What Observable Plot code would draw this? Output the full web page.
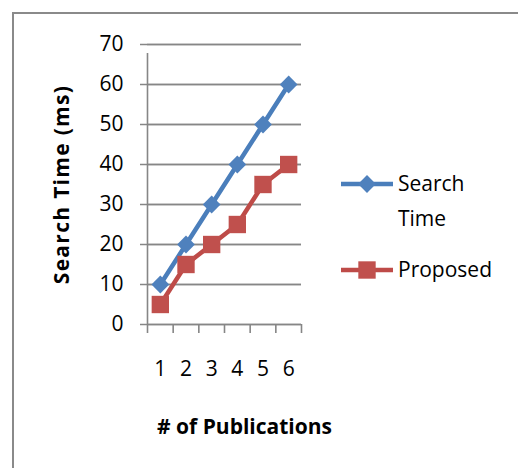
<!DOCTYPE html>
<html>
<head>
<meta charset="utf-8">
<script src="https://cdn.jsdelivr.net/npm/d3@7"></script>
<script src="https://cdn.jsdelivr.net/npm/@observablehq/plot@0.6"></script>
<style>
  html, body { margin: 0; padding: 0; background: #fff; }
  body { width: 518px; height: 468px; position: relative; overflow: hidden; font-family: "Open Sans", sans-serif; }
  #frame { position: absolute; left: 12px; top: 12px; width: 600px; height: 600px;
           border-left: 2px solid #8a8a8a; border-top: 2px solid #8a8a8a; pointer-events: none; }
  #chart { position: absolute; left: 0; top: 0; }
  #legend { position: absolute; left: 341px; top: 160px; font-size: 21px; color: #000; }
  .item { display: flex; align-items: flex-start; }
  .item svg { flex: none; margin-top: 12px; }
  .item span { margin-left: 5px; margin-top: 6px; line-height: 35px; }
  .ytitle text { letter-spacing: 1.3px; }
</style>
</head>
<body>
<div id="chart"></div>
<div id="legend"></div>
<div id="frame"></div>
<script>
// Number of publications on the x axis
const publications = [1, 2, 3, 4, 5, 6];
// Search time in ms for each method
const searchTime = [10, 20, 30, 40, 50, 60];
const proposed = [5, 15, 20, 25, 35, 40];
const yTicks = [0, 10, 20, 30, 40, 50, 60, 70];

const seriesNames = ["Search Time", "Proposed"];
const lineColors = ["#4a7ebb", "#be4b48"];
const markColors = ["#4f81bd", "#c0504d"];

const rows = [
  ...publications.map((p, i) => ({pub: p, ms: searchTime[i], series: seriesNames[0]})),
  ...publications.map((p, i) => ({pub: p, ms: proposed[i], series: seriesNames[1]}))
];
const bySeries = name => rows.filter(d => d.series === name);
// category boundaries for the tick marks under the axis
const bounds = [0.5, ...publications.map(p => p + 0.5)];

const chart = Plot.plot({
  width: 518,
  height: 468,
  marginLeft: 147,
  marginRight: 217,
  marginTop: 44,
  marginBottom: 144,
  style: {fontFamily: "Open Sans, sans-serif", fontSize: "21px", color: "#000", background: "transparent"},
  x: {domain: [0.5, 6.5]},
  y: {domain: [0, 70]},
  marks: [
    Plot.gridY(yTicks, {stroke: "#868686", strokeOpacity: 1, strokeWidth: 1.6, x1: 0.5, x2: 6.5}),
    Plot.tickY(yTicks, {y: d => d, stroke: "#868686", strokeWidth: 1.6, x1: 0.5, x2: 6.5, insetLeft: -7}),
    Plot.axisY(yTicks, {tickSize: 0, tickPadding: 24, tickFormat: d => d, label: null, fontSize: 21, fill: "#000"}),
    Plot.ruleX([0.5], {y1: 0, y2: 70, stroke: "#868686", strokeWidth: 1.6, insetBottom: -9}),
    Plot.axisX(bounds, {tickSize: 9, tickFormat: () => "", stroke: "#868686", strokeWidth: 1.6, label: null}),
    Plot.axisX(publications, {tickSize: 0, tickPadding: 37, tickFormat: d => d, label: null, fontSize: 21, fill: "#000"}),
    Plot.line(bySeries(seriesNames[0]), {x: "pub", y: "ms", stroke: lineColors[0], strokeWidth: 4.5}),
    Plot.line(bySeries(seriesNames[1]), {x: "pub", y: "ms", stroke: lineColors[1], strokeWidth: 4.5}),
    Plot.dot(bySeries(seriesNames[0]), {x: "pub", y: "ms", symbol: "diamond2", r: 8, fill: markColors[0], stroke: "none"}),
    Plot.dot(bySeries(seriesNames[1]), {x: "pub", y: "ms", symbol: "square", r: 9.8, fill: markColors[1], stroke: "none"}),
    Plot.text(["Search Time (ms)"], {frameAnchor: "left", textAnchor: "middle", rotate: -90, dx: -85, fontWeight: "bold", fontSize: 21, fill: "#000", className: "ytitle"}),
    Plot.text(["# of Publications"], {frameAnchor: "bottom", dx: 20, dy: 109, fontWeight: "bold", fontSize: 21, fill: "#000"})
  ]
});
document.getElementById("chart").append(chart);

// Legend: line with marker plus series name
const legend = d3.select("#legend");
const legendLabels = [["Search", "Time"], ["Proposed"]];
const symbols = [d3.symbolDiamond2, d3.symbolSquare];
const sizes = [Math.PI * 8 * 8, Math.PI * 9.8 * 9.8];
seriesNames.forEach((name, i) => {
  const item = legend.append("div").attr("class", "item").style("margin-bottom", i === 0 ? "10px" : "0");
  const svg = item.append("svg").attr("width", 52).attr("height", 24);
  svg.append("line").attr("x1", 0).attr("x2", 52).attr("y1", 12).attr("y2", 12)
    .attr("stroke", lineColors[i]).attr("stroke-width", 4.5);
  svg.append("path").attr("transform", "translate(26,12)")
    .attr("d", d3.symbol(symbols[i], sizes[i])()).attr("fill", markColors[i]);
  item.append("span").html(legendLabels[i].join("<br>"));
});
</script>
</body>
</html>
